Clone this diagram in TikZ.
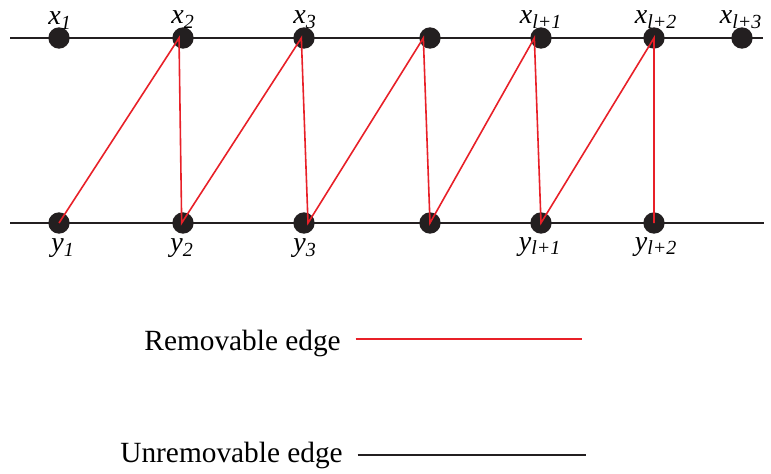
\documentclass[tikz,border=0pt]{standalone}
\usepackage{fontspec}
\setmainfont{Liberation Serif}
\usetikzlibrary{positioning}

\definecolor{edgered}{RGB}{232,32,40}
\definecolor{inkblack}{RGB}{35,31,32}

\tikzset{
  vtx/.style={circle, fill=inkblack, inner sep=0pt, minimum size=16},
  lab/.style={font=\fontsize{21}{23}\selectfont\itshape, inner sep=0pt, anchor=base},
  legtext/.style={font=\fontsize{22}{24}\selectfont, inner sep=0pt, anchor=base east},
  redge/.style={draw=edgered, line width=1.2pt},
  bedge/.style={draw=inkblack, line width=1.4pt}
}
\newcommand{\sub}[1]{\textsubscript{\fontsize{15}{16}\selectfont #1}}

\begin{document}
\begin{tikzpicture}[x=0.75pt, y=-0.75pt]
  \useasboundingbox (0,0) rectangle (771,474);

  % --- 1. 二本の水平線 ---
  \coordinate (tl) at (10,38);
  \coordinate (tr) at (763,38);
  \coordinate (bl) at (10,223);
  \coordinate (br) at (764,223);
  \draw[bedge] (tl) -- (tr);
  \draw[bedge] (bl) -- (br);

  % --- 2. 上の頂点 x ---
  \node[vtx] (x1) at (59,38) {};
  \node[vtx] (x2) at (183,38) {};
  \node[vtx] (x3) at (304,38) {};
  \node[vtx] (x4) at (430,38) {};
  \node[vtx] (x5) at (541,38) {};
  \node[vtx] (x6) at (654,38) {};
  \node[vtx] (x7) at (742,38) {};

  % --- 3. 下の頂点 y ---
  \node[vtx] (y1) at (59,223) {};
  \node[vtx] (y2) at (183,223) {};
  \node[vtx] (y3) at (304,223) {};
  \node[vtx] (y4) at (430,223) {};
  \node[vtx] (y5) at (541,223) {};
  \node[vtx] (y6) at (654,223) {};

  % --- 4. 除去可能な辺 (赤) ---
  \draw[redge] (y1.center) -- ([xshift=-3]x2.center) -- ([xshift=-1]y2.center)
    -- ([xshift=-2]x3.center) -- ([xshift=3]y3.center)
    -- ([xshift=-5]x4.center) -- (y4.center)
    -- ([xshift=-5]x5.center) -- (y5.center)
    -- (x6.center) -- (y6.center);

  % --- 5. 頂点ラベル ---
  \node[lab] (lx1) at (60,25) {x\sub{1}};
  \node[lab] (lx2) at (183,24) {x\sub{2}};
  \node[lab] (lx3) at (305,24) {x\sub{3}};
  \node[lab] (lx5) at (541,24) {x\sub{l+1}};
  \node[lab] (lx6) at (656,24) {x\sub{l+2}};
  \node[lab] (lx7) at (741,24) {x\sub{l+3}};

  \node[lab] (ly1) at (63,252) {y\sub{1}};
  \node[lab] (ly2) at (182,252) {y\sub{2}};
  \node[lab] (ly3) at (305,252) {y\sub{3}};
  \node[lab] (ly5) at (540,250) {y\sub{l+1}};
  \node[lab] (ly6) at (656,250) {y\sub{l+2}};

  % --- 6. 凡例 ---
  \node[legtext] (rem) at (341,350) {Removable edge};
  \coordinate (remend) at (582,339);
  \draw[redge] ([xshift=11]rem.east |- remend) -- (remend);

  \node[legtext] (unrem) at (343,462) {Unremovable edge};
  \coordinate (unremend) at (586,455);
  \draw[bedge] ([xshift=11]unrem.east |- unremend) -- (unremend);

\end{tikzpicture}
\end{document}
